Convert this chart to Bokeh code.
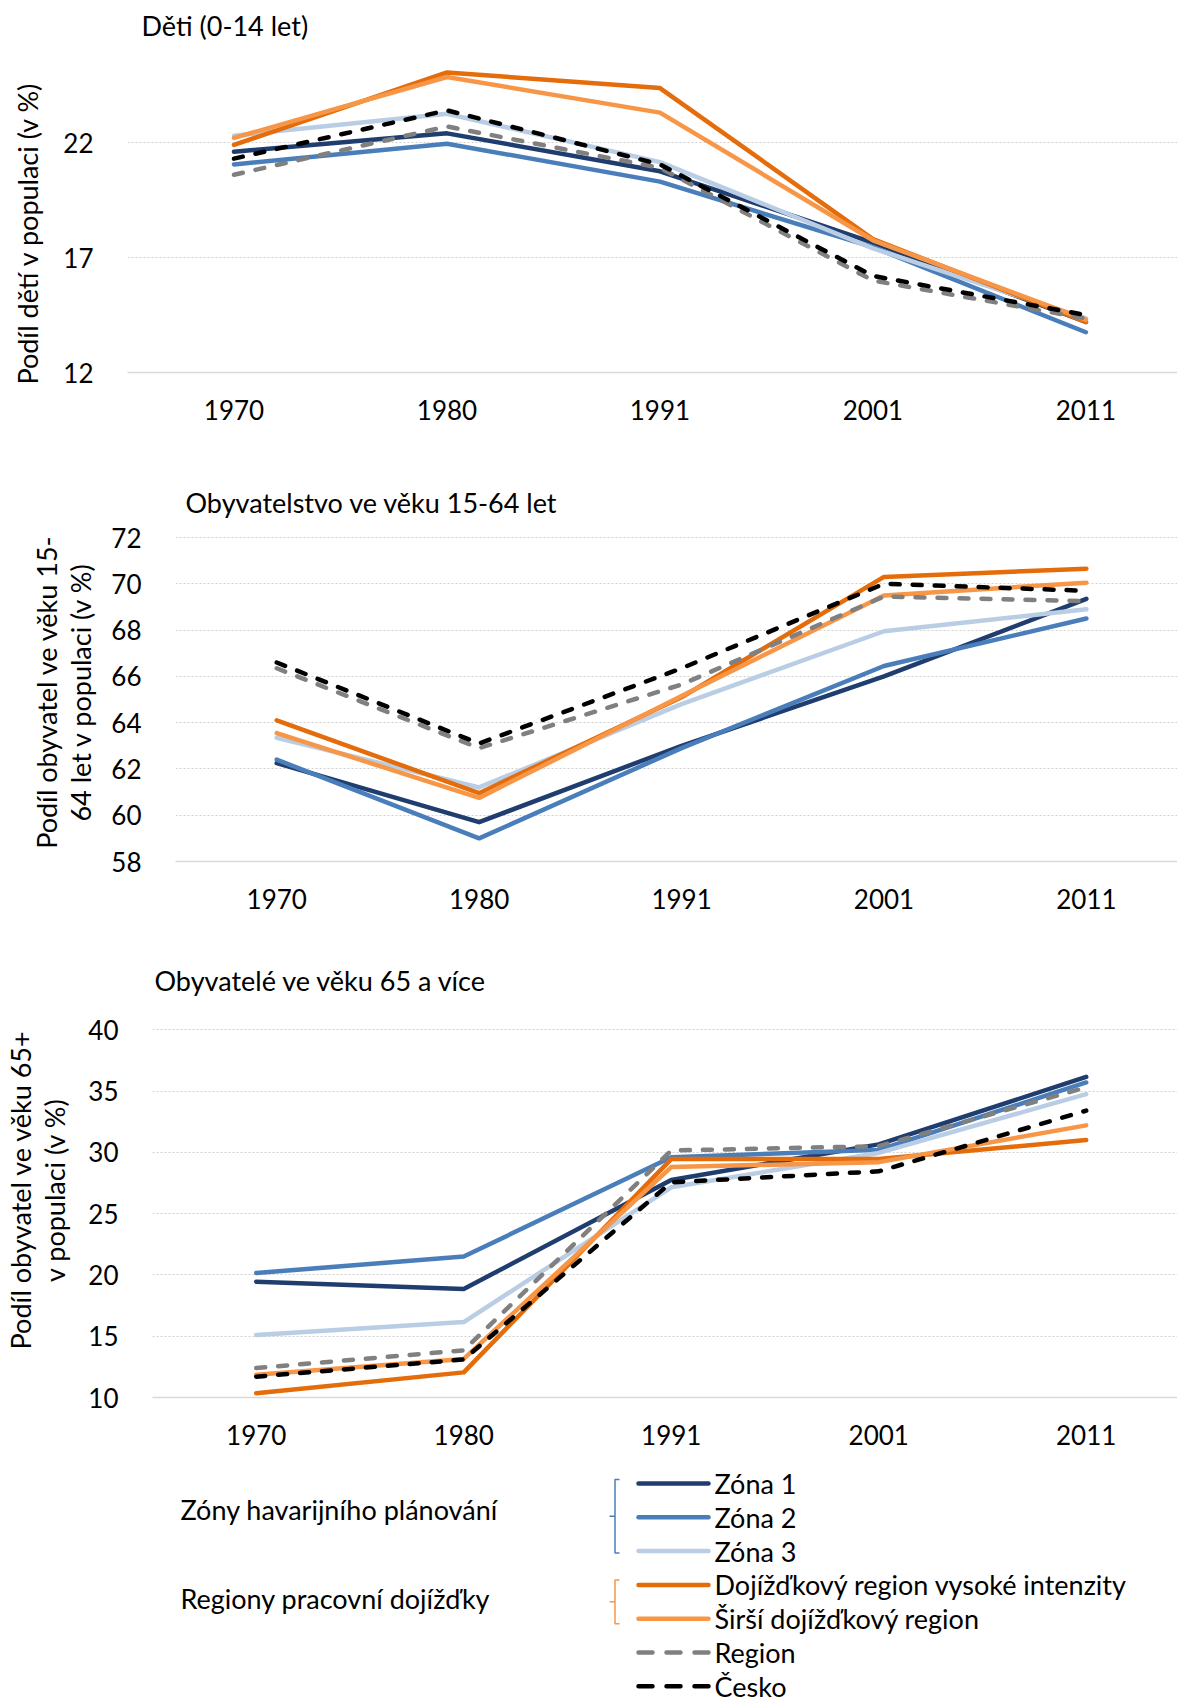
from bokeh.plotting import figure
from bokeh.models import Range1d, FixedTicker
from bokeh.core.properties import value
from bokeh.embed import file_html
from bokeh.resources import INLINE

FONT = "Lato"
NB = "\u00a0"

# ---------------- data ----------------
years = ["1970", "1980", "1991", "2001", "2011"]

series_names = ["Zóna 1", "Zóna 2", "Zóna 3",
                "Dojížďkový region vysoké intenzity", "Širší dojížďkový region",
                "Region", "Česko"]
series_colors = ["#1F3D6E", "#4A7EBB", "#B9CDE5", "#E46C0A", "#F79646", "#808080", "#000000"]
series_dashed = [False, False, False, False, False, True, True]

# Děti (0-14 let)
deti_zona1 = [21.6, 22.4, 20.75, 17.65, 14.2]
deti_zona2 = [21.05, 21.95, 20.3, 17.45, 13.75]
deti_zona3 = [22.3, 23.25, 21.15, 17.4, 14.35]
deti_dr_vys = [21.9, 25.05, 24.37, 17.8, 14.2]
deti_dr_sir = [22.2, 24.85, 23.3, 17.75, 14.3]
deti_region = [20.6, 22.7, 20.9, 16.0, 14.35]
deti_cesko = [21.3, 23.4, 21.05, 16.2, 14.5]

# Obyvatelstvo ve věku 15-64 let
prod_zona1 = [62.25, 59.7, 63.0, 66.0, 69.35]
prod_zona2 = [62.4, 59.0, 62.9, 66.45, 68.5]
prod_zona3 = [63.35, 61.2, 64.8, 67.95, 68.9]
prod_dr_vys = [64.1, 60.95, 65.1, 70.3, 70.65]
prod_dr_sir = [63.55, 60.75, 65.15, 69.5, 70.05]
prod_region = [66.35, 62.9, 65.65, 69.45, 69.25]
prod_cesko = [66.6, 63.1, 66.35, 70.0, 69.7]

# Obyvatelé ve věku 65 a více
star_zona1 = [19.45, 18.85, 27.75, 30.65, 36.15]
star_zona2 = [20.15, 21.5, 29.6, 30.2, 35.7]
star_zona3 = [15.1, 16.15, 27.15, 29.95, 34.75]
star_dr_vys = [10.35, 12.05, 29.45, 29.45, 31.0]
star_dr_sir = [11.85, 13.15, 28.8, 29.2, 32.2]
star_region = [12.4, 13.85, 30.15, 30.5, 35.3]
star_cesko = [11.7, 13.1, 27.55, 28.45, 33.4]

deti_ticks = [12, 17, 22]
prod_ticks = [58, 60, 62, 64, 66, 68, 70, 72]
star_ticks = [10, 15, 20, 25, 30, 35, 40]

legend_group_labels = ["Zóny havarijního plánování", "Regiony pracovní dojížďky"]

# ---------------- helpers ----------------
idx = list(range(len(years)))
W = 1177


def make_chart(title, ylabel, series, y0, y1, yticks, height, b_left, b_top, b_bottom,
               x_end, title_offset, title_standoff, label_standoff, label_lh):
    p = figure(width=W, height=height, output_backend="svg", toolbar_location=None,
               x_range=Range1d(-0.5, x_end), y_range=Range1d(y0, y1),
               min_border_left=b_left, min_border_right=0,
               min_border_top=b_top, min_border_bottom=b_bottom)
    p.outline_line_color = None
    p.background_fill_color = "white"
    p.border_fill_color = "white"

    p.title.text = title
    p.title.text_font = FONT
    p.title.text_font_size = "27px"
    p.title.text_font_style = "normal"
    p.title.text_color = "#000000"
    p.title.align = "left"
    p.title.offset = title_offset
    p.title.standoff = title_standoff

    p.xgrid.visible = False
    p.ygrid.grid_line_color = "#D0D0D0"
    p.ygrid.grid_line_dash = "2 2"
    p.ygrid.grid_line_width = 1

    p.xaxis.ticker = FixedTicker(ticks=idx)
    p.xaxis.major_label_overrides = {i: y for i, y in zip(idx, years)}
    p.xaxis.axis_line_color = "#D9D9D9"
    p.xaxis.axis_line_width = 1.5
    p.xaxis.major_tick_line_color = None
    p.xaxis.minor_tick_line_color = None
    p.xaxis.major_label_standoff = 21
    p.xaxis.major_label_text_font = FONT
    p.xaxis.major_label_text_font_size = "26px"
    p.xaxis.major_label_text_color = "#000000"

    p.yaxis.ticker = FixedTicker(ticks=yticks)
    p.yaxis.axis_line_color = None
    p.yaxis.major_tick_line_color = None
    p.yaxis.minor_tick_line_color = None
    p.yaxis.major_label_standoff = 28
    p.yaxis.major_label_text_font = FONT
    p.yaxis.major_label_text_font_size = "26px"
    p.yaxis.major_label_text_color = "#000000"
    p.yaxis.axis_label = ylabel
    p.yaxis.axis_label_text_font = FONT
    p.yaxis.axis_label_text_font_size = "27px"
    p.yaxis.axis_label_text_font_style = "normal"
    p.yaxis.axis_label_text_color = "#000000"
    p.yaxis.axis_label_text_line_height = label_lh
    p.yaxis.axis_label_standoff = label_standoff

    for vals, col, dashed in zip(series, series_colors, series_dashed):
        if dashed:
            p.line(idx, vals, line_color=col, line_width=4.5, line_dash="9 13",
                   line_cap="round", line_join="round")
        else:
            p.line(idx, vals, line_color=col, line_width=4.5,
                   line_cap="round", line_join="round")
    return p


p1 = make_chart("Děti (0-14 let)", "Podíl dětí v populaci (v %)" + NB * 7,
                [deti_zona1, deti_zona2, deti_zona3, deti_dr_vys, deti_dr_sir, deti_region, deti_cesko],
                12, 26.22, deti_ticks, 440, 127, 45, 68, 4.43, 14, 8, 16, 1.2)

p2 = make_chart("Obyvatelstvo ve věku 15-64 let", "Podíl obyvatel ve věku 15-\n64 let v populaci (v %)",
                [prod_zona1, prod_zona2, prod_zona3, prod_dr_vys, prod_dr_sir, prod_region, prod_cesko],
                58, 72.65, prod_ticks, 490, 175, 82, 69, 4.45, 10, 8, 11, 1.05)

p3 = make_chart("Obyvatelé ve věku 65 a více",
                NB * 5 + "Podíl obyvatel ve věku 65+\n" + NB * 5 + "v populaci (v %)",
                [star_zona1, star_zona2, star_zona3, star_dr_vys, star_dr_sir, star_region, star_cesko],
                10, 41.08, star_ticks, 530, 148, 86, 63, 4.44, 2, 40, 14, 1.05)

# ---------------- legend (page-pixel coordinate system) ----------------
LTOP, LBOT = 1460, 1704
pl = figure(width=W, height=LBOT - LTOP, output_backend="svg", toolbar_location=None,
            x_range=Range1d(0, W), y_range=Range1d(LBOT, LTOP),
            min_border_left=0, min_border_right=0, min_border_top=0, min_border_bottom=0)
pl.axis.visible = False
pl.grid.visible = False
pl.outline_line_color = None
pl.background_fill_color = "white"
pl.border_fill_color = "white"

row_y0, row_gap = 1483, 33.8
rows_y = [row_y0 + i * row_gap for i in range(len(series_names))]
sx0, sx1 = 638, 708
for yy, col, dashed in zip(rows_y, series_colors, series_dashed):
    if dashed:
        pl.line([sx0, sx1], [yy, yy], line_color=col, line_width=4.5, line_dash="14 14",
                line_cap="round")
    else:
        pl.line([sx0, sx1], [yy, yy], line_color=col, line_width=4.5, line_cap="round")
pl.text(x=[714] * len(series_names), y=rows_y, text=series_names,
        text_font=value(FONT), text_font_size="27px", text_baseline="middle",
        text_align="left", text_color="#000000")

# group labels
pl.text(x=[180, 180], y=[1509, 1598],
        text=legend_group_labels, text_font=value(FONT), text_font_size="27px",
        text_baseline="middle", text_align="left", text_color="#000000")


def bracket(ya, yb, col):
    bx = 614.5
    pl.line([619, bx, bx, 619], [ya, ya, yb, yb], line_color=col, line_width=1.5)
    pl.line([bx, 609], [(ya + yb) / 2, (ya + yb) / 2], line_color=col, line_width=1.5)


bracket(rows_y[0] - 4, rows_y[2] + 2, "#4A7EBB")
bracket(rows_y[3] - 5, rows_y[4] + 5, "#F79646")

open("out.html", "w").write(file_html([p1, p2, p3, pl], INLINE))
